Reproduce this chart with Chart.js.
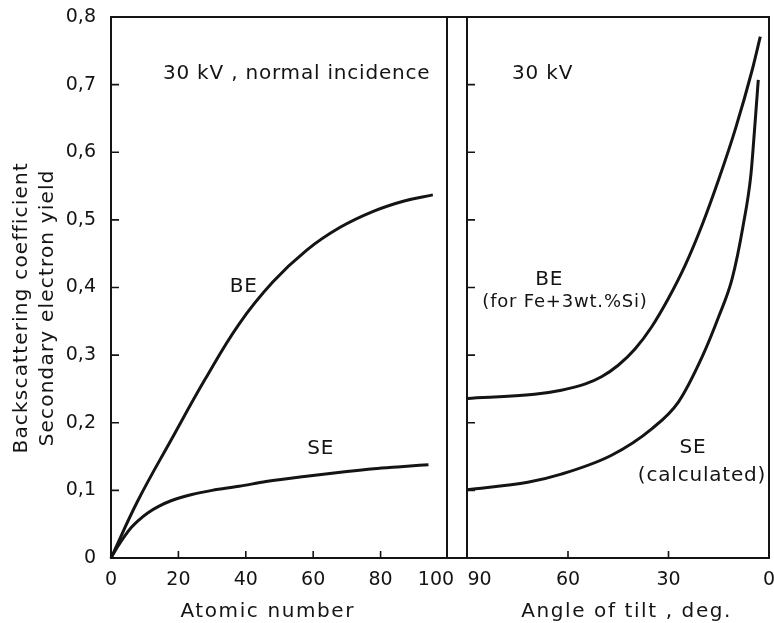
<!DOCTYPE html>
<html><head><meta charset="utf-8">
<script src="https://cdn.jsdelivr.net/npm/chart.js@4/dist/chart.umd.min.js"></script>
<style>html,body{margin:0;padding:0;background:#fff}#wrap{position:relative;width:774px;height:623px}</style>
</head><body><div id="wrap"><canvas id="c" width="774" height="623"></canvas></div>
<script>
// ---- data ----
// Left panel: 30 kV, normal incidence, vs atomic number
const atomicNumberBE = [0, 8, 18, 28, 38, 48, 58, 68, 78, 87, 95.5];
const backscatterBE  = [0, 0.085, 0.176, 0.265, 0.346, 0.408, 0.455, 0.489, 0.513, 0.528, 0.537];
const atomicNumberSE = [0, 2, 4, 6, 8, 11, 14, 18, 24, 30, 38, 46, 58, 70, 78, 86, 94.2];
const secondarySE    = [0, 0.017, 0.032, 0.045, 0.055, 0.067, 0.076, 0.085, 0.094, 0.100, 0.106, 0.113, 0.121, 0.128, 0.132, 0.135, 0.138];
// Right panel: 30 kV, vs angle of tilt (deg)
const tiltBE  = [90, 70, 62, 55, 50, 45, 40, 35, 30, 25, 20, 15, 10, 5, 2.6];
const tiltBEv = [0.236, 0.242, 0.248, 0.257, 0.268, 0.285, 0.309, 0.342, 0.384, 0.433, 0.492, 0.560, 0.635, 0.722, 0.771];
const tiltSE  = [90, 72, 62, 47, 35, 27, 20, 15, 11, 7.7, 5.4, 4.2, 3.2];
const tiltSEv = [0.101, 0.112, 0.124, 0.152, 0.191, 0.231, 0.297, 0.357, 0.413, 0.492, 0.567, 0.641, 0.707];
// ticks / labels
const yTickValues = [0, 0.1, 0.2, 0.3, 0.4, 0.5, 0.6, 0.7, 0.8];
const zTickValues = [0, 20, 40, 60, 80, 100];
const tiltTickValues = [90, 60, 30, 0];
const yTitleLines = ['Backscattering coefficient', 'Secondary electron yield'];
const xTitleLeft = 'Atomic number';
const xTitleRight = 'Angle of tilt , deg.';
const notes = [
  {axis: 'x',  x: 15.4, y: 0.716, text: '30 kV , normal incidence', align: 'left', size: 20},
  {axis: 'x',  x: 39.4, y: 0.401, text: 'BE', align: 'center', size: 20},
  {axis: 'x',  x: 62.2, y: 0.162, text: 'SE', align: 'center', size: 20},
  {axis: 'xa', x: 76.7, y: 0.716, text: '30 kV', align: 'left', size: 20},
  {axis: 'xa', x: 65.6, y: 0.412, text: 'BE', align: 'center', size: 20},
  {axis: 'xa', x: 60.9, y: 0.378, text: '(for Fe+3wt.%Si)', align: 'center', size: 18},
  {axis: 'xa', x: 22.7, y: 0.163, text: 'SE', align: 'center', size: 20},
  {axis: 'xa', x: 20.0, y: 0.121, text: '(calculated)', align: 'center', size: 20}
];

const INK = '#141414';
const FONT = "'DejaVu Sans', sans-serif";
const pts = (xs, ys) => xs.map((v, i) => ({x: v, y: ys[i]}));
const fmt = v => (Math.abs(v) < 1e-9 ? '0' : v.toFixed(1).replace('.', ','));

const decor = {
  id: 'decor',
  afterDraw(chart) {
    const ctx = chart.ctx, a = chart.chartArea;
    const sx = chart.scales.x, sa = chart.scales.xa, sy = chart.scales.y;
    ctx.save();
    ctx.strokeStyle = INK; ctx.lineWidth = 2; ctx.lineCap = 'butt';
    // frame
    ctx.strokeRect(a.left, a.top, a.right - a.left, a.bottom - a.top);
    // panel separators
    ctx.beginPath();
    ctx.moveTo(sx.right - 1, a.top); ctx.lineTo(sx.right - 1, a.bottom);
    ctx.moveTo(sa.left - 0.5, a.top); ctx.lineTo(sa.left - 0.5, a.bottom);
    ctx.stroke();
    // inward ticks (skip the ones lying on panel edges)
    ctx.lineWidth = 1.6;
    ctx.beginPath();
    yTickValues.forEach(v => {
      const py = sy.getPixelForValue(v);
      ctx.moveTo(a.left, py); ctx.lineTo(a.left + 8, py);
      ctx.moveTo(sa.left - 0.5, py); ctx.lineTo(sa.left + 7.5, py);
    });
    zTickValues.filter(v => v > 0 && v < 100).forEach(v => {
      const px = sx.getPixelForValue(v);
      ctx.moveTo(px, a.bottom); ctx.lineTo(px, a.bottom - 7);
    });
    tiltTickValues.filter(v => v > 0 && v < 90).forEach(v => {
      const px = sa.getPixelForValue(v);
      ctx.moveTo(px, a.bottom); ctx.lineTo(px, a.bottom - 7);
    });
    ctx.stroke();
    // annotations
    ctx.fillStyle = INK;
    ctx.letterSpacing = '0.8px';
    ctx.textBaseline = 'middle';
    notes.forEach(n => {
      const s = chart.scales[n.axis];
      ctx.font = n.size + 'px ' + FONT;
      ctx.textAlign = n.align;
      ctx.fillText(n.text, s.getPixelForValue(n.x), sy.getPixelForValue(n.y));
    });
    // axis titles
    ctx.font = '20px ' + FONT;
    ctx.letterSpacing = '1.6px';
    ctx.textAlign = 'center';
    ctx.fillText(xTitleLeft, sx.getPixelForValue(46.5), a.bottom + 54);
    ctx.fillText(xTitleRight, sa.getPixelForValue(42.5), a.bottom + 54);
    ctx.letterSpacing = '1.2px';
    const cy = sy.getPixelForValue(0.37);
    [22, 48].forEach((xx, i) => {
      ctx.save();
      ctx.translate(xx, cy);
      ctx.rotate(-Math.PI / 2);
      ctx.fillText(yTitleLines[i], 0, 0);
      ctx.restore();
    });
    ctx.restore();
  }
};

const tickFont = {family: FONT, size: 19};
const fixX = s => { s.height = 65; s.paddingLeft = 0; s.paddingRight = 0; };
const lineStyle = {borderColor: INK, borderWidth: 3, pointRadius: 0, fill: false, clip: false};

new Chart(document.getElementById('c'), {
  type: 'line',
  data: {
    datasets: [
      Object.assign({label: 'BE', xAxisID: 'x', data: pts(atomicNumberBE, backscatterBE), tension: 0.4}, lineStyle),
      Object.assign({label: 'SE', xAxisID: 'x', data: pts(atomicNumberSE, secondarySE), cubicInterpolationMode: 'monotone'}, lineStyle),
      Object.assign({label: 'BE (for Fe+3wt.%Si)', xAxisID: 'xa', data: pts(tiltBE, tiltBEv), cubicInterpolationMode: 'monotone'}, lineStyle),
      Object.assign({label: 'SE (calculated)', xAxisID: 'xa', data: pts(tiltSE, tiltSEv), cubicInterpolationMode: 'monotone'}, lineStyle)
    ]
  },
  options: {
    responsive: false, animation: false, devicePixelRatio: 1,
    layout: {padding: {top: 17, right: 5, bottom: 0, left: 0}},
    plugins: {legend: {display: false}, tooltip: {enabled: false}},
    scales: {
      x: {
        type: 'linear', position: 'bottom', stack: 'panels', stackWeight: 337,
        min: 0, max: 100,
        afterBuildTicks: s => { s.ticks = zTickValues.map(v => ({value: v})); },
        ticks: {color: INK, font: tickFont, padding: 11, maxRotation: 0, autoSkip: false,
                callback: v => (v === 100 ? '100    ' : String(v))},
        grid: {display: false, drawTicks: false}, border: {display: false},
        afterFit: fixX
      },
      gap: {
        type: 'linear', position: 'bottom', stack: 'panels', stackWeight: 19.5,
        min: 0, max: 1, display: false, afterFit: fixX
      },
      xa: {
        type: 'linear', position: 'bottom', stack: 'panels', stackWeight: 301.5,
        min: 0, max: 90, reverse: true,
        afterBuildTicks: s => { s.ticks = tiltTickValues.map(v => ({value: v})); },
        ticks: {color: INK, font: tickFont, padding: 11, maxRotation: 0, autoSkip: false,
                callback: v => (v === 90 ? '    90' : String(v))},
        grid: {display: false, drawTicks: false}, border: {display: false},
        afterFit: fixX
      },
      y: {
        type: 'linear', position: 'left', min: 0, max: 0.8,
        afterBuildTicks: s => { s.ticks = yTickValues.map(v => ({value: v})); },
        ticks: {color: INK, font: tickFont, padding: 15, callback: v => fmt(v)},
        grid: {display: false, drawTicks: false}, border: {display: false},
        afterFit: s => { s.width = 111; s.paddingTop = 0; s.paddingBottom = 0; }
      }
    }
  },
  plugins: [decor]
});
</script>
</body></html>
